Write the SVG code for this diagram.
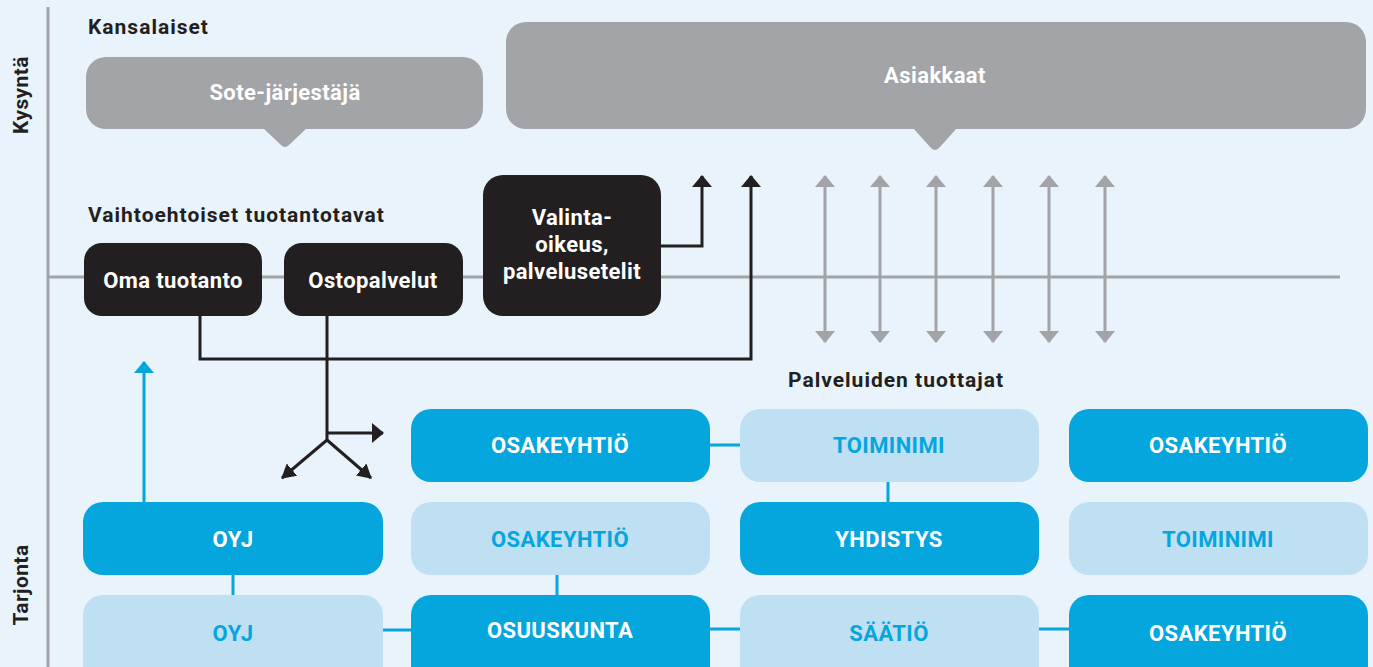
<svg xmlns="http://www.w3.org/2000/svg" width="1373" height="667" viewBox="0 0 1373 667">
<defs>
<style>
text{font-family:Roboto,"Liberation Sans",sans-serif;font-weight:bold;text-anchor:middle}
.lbl{fill:#231f20;font-size:21px;letter-spacing:1px;text-anchor:start}
.ax{fill:#231f20;font-size:21px;letter-spacing:0.4px}
.w{fill:#ffffff;font-size:22px;letter-spacing:0.4px}
.b{fill:#05a6de;font-size:22px;letter-spacing:0.4px}
.dk{fill:#05a6de}
.lt{fill:#bfdff3}
.blk{fill:#231f20}
.gry{fill:#a3a4a7}
.bl{stroke:#231f20;stroke-width:3;fill:none}
.gl{stroke:#a3a4a7;stroke-width:3;fill:none}
.cl{stroke:#05a6de;stroke-width:3;fill:none}
</style>
<marker id="ab" viewBox="0 -10 12 20" refX="11" refY="0" markerWidth="12" markerHeight="20" markerUnits="userSpaceOnUse" orient="auto"><path d="M0,-10 L12,0 L0,10 z" fill="#231f20"/></marker>
<marker id="abs" viewBox="0 -8 14 16" refX="13" refY="0" markerWidth="14" markerHeight="16" markerUnits="userSpaceOnUse" orient="auto"><path d="M0,-8 L14,0 L0,8 z" fill="#231f20"/></marker>
<marker id="ag" viewBox="0 -10 12 20" refX="11" refY="0" markerWidth="12" markerHeight="20" markerUnits="userSpaceOnUse" orient="auto-start-reverse"><path d="M0,-10 L12,0 L0,10 z" fill="#a3a4a7"/></marker>
<marker id="ac" viewBox="0 -10 12 20" refX="11" refY="0" markerWidth="12" markerHeight="20" markerUnits="userSpaceOnUse" orient="auto"><path d="M0,-10 L12,0 L0,10 z" fill="#05a6de"/></marker>
</defs>
<rect width="1373" height="667" fill="#e8f3fb"/>
<g id="axes">
<line x1="48" y1="7" x2="48" y2="667" class="gl"/>
<line x1="48" y1="277" x2="1340" y2="277" class="gl"/>
<text class="ax" transform="translate(28,95) rotate(-90)">Kysyntä</text>
<text class="ax" transform="translate(28,585) rotate(-90)">Tarjonta</text>
</g>
<text class="lbl" x="88" y="34">Kansalaiset</text>
<text class="lbl" x="88" y="222">Vaihtoehtoiset tuotantotavat</text>
<text class="lbl" x="788" y="387">Palveluiden tuottajat</text>
<g id="connectors">
<line x1="144" y1="502" x2="144" y2="362" class="cl" marker-end="url(#ac)"/>
<path d="M661,246 H702 V176" class="bl" marker-end="url(#ab)"/>
<path d="M200,316 V359 H751 V176" class="bl" marker-end="url(#ab)"/>
<path d="M327,316 V440" class="bl"/>
<path d="M327,433 H383" class="bl" marker-end="url(#ab)"/>
<path d="M327,440 L282,478" class="bl" marker-end="url(#abs)"/>
<path d="M327,440 L371,478" class="bl" marker-end="url(#abs)"/>
<line x1="825" y1="176" x2="825" y2="342" class="gl" marker-start="url(#ag)" marker-end="url(#ag)"/>
<line x1="880" y1="176" x2="880" y2="342" class="gl" marker-start="url(#ag)" marker-end="url(#ag)"/>
<line x1="936" y1="176" x2="936" y2="342" class="gl" marker-start="url(#ag)" marker-end="url(#ag)"/>
<line x1="993" y1="176" x2="993" y2="342" class="gl" marker-start="url(#ag)" marker-end="url(#ag)"/>
<line x1="1049" y1="176" x2="1049" y2="342" class="gl" marker-start="url(#ag)" marker-end="url(#ag)"/>
<line x1="1105" y1="176" x2="1105" y2="342" class="gl" marker-start="url(#ag)" marker-end="url(#ag)"/>
<line x1="710" y1="445" x2="740" y2="445" class="cl"/>
<line x1="888" y1="481" x2="888" y2="502" class="cl"/>
<line x1="233" y1="575" x2="233" y2="595" class="cl"/>
<line x1="557" y1="575" x2="557" y2="595" class="cl"/>
<line x1="383" y1="630" x2="411" y2="630" class="cl"/>
<line x1="710" y1="629" x2="740" y2="629" class="cl"/>
<line x1="1039" y1="629" x2="1069" y2="629" class="cl"/>
</g>
<g id="sote">
<rect x="86" y="57" width="397" height="72" rx="20" class="gry"/>
<path d="M263,128 L281,145 Q285,149 289,145 L307,128 z" class="gry"/>
<text class="w" x="285" y="100">Sote-järjestäjä</text>
</g>
<g id="asiakkaat">
<rect x="506" y="22" width="860" height="107" rx="20" class="gry"/>
<path d="M913,128 L931,148 Q935,152 939,148 L957,128 z" class="gry"/>
<text class="w" x="935" y="83">Asiakkaat</text>
</g>
<g id="oma"><rect x="84" y="243" width="178" height="73" rx="18" class="blk"/><text class="w" x="173" y="288">Oma tuotanto</text></g>
<g id="osto"><rect x="284" y="243" width="179" height="73" rx="18" class="blk"/><text class="w" x="373" y="288">Ostopalvelut</text></g>
<g id="valinta"><rect x="483" y="175" width="178" height="141" rx="20" class="blk"/>
<text class="w" x="572" y="225">Valinta-</text><text class="w" x="572" y="252">oikeus,</text><text class="w" x="572" y="279">palvelusetelit</text></g>
<g id="r1c2"><rect x="411" y="409" width="299" height="73" rx="20" class="dk"/><text class="w" x="560" y="453">OSAKEYHTIÖ</text></g>
<g id="r1c3"><rect x="740" y="409" width="299" height="73" rx="20" class="lt"/><text class="b" x="889" y="453">TOIMINIMI</text></g>
<g id="r1c4"><rect x="1069" y="409" width="299" height="73" rx="20" class="dk"/><text class="w" x="1218" y="453">OSAKEYHTIÖ</text></g>
<g id="r2c1"><rect x="83" y="502" width="300" height="73" rx="20" class="dk"/><text class="w" x="233" y="547">OYJ</text></g>
<g id="r2c2"><rect x="411" y="502" width="299" height="73" rx="20" class="lt"/><text class="b" x="560" y="547">OSAKEYHTIÖ</text></g>
<g id="r2c3"><rect x="740" y="502" width="299" height="73" rx="20" class="dk"/><text class="w" x="889" y="547">YHDISTYS</text></g>
<g id="r2c4"><rect x="1069" y="502" width="299" height="73" rx="20" class="lt"/><text class="b" x="1218" y="547">TOIMINIMI</text></g>
<g id="r3c1"><rect x="83" y="595" width="300" height="95" rx="20" class="lt"/><text class="b" x="233" y="641">OYJ</text></g>
<g id="r3c2"><rect x="411" y="595" width="299" height="95" rx="20" class="dk"/><text class="w" x="560" y="638">OSUUSKUNTA</text></g>
<g id="r3c3"><rect x="740" y="595" width="299" height="95" rx="20" class="lt"/><text class="b" x="889" y="641">SÄÄTIÖ</text></g>
<g id="r3c4"><rect x="1069" y="595" width="299" height="95" rx="20" class="dk"/><text class="w" x="1218" y="641">OSAKEYHTIÖ</text></g>
</svg>
